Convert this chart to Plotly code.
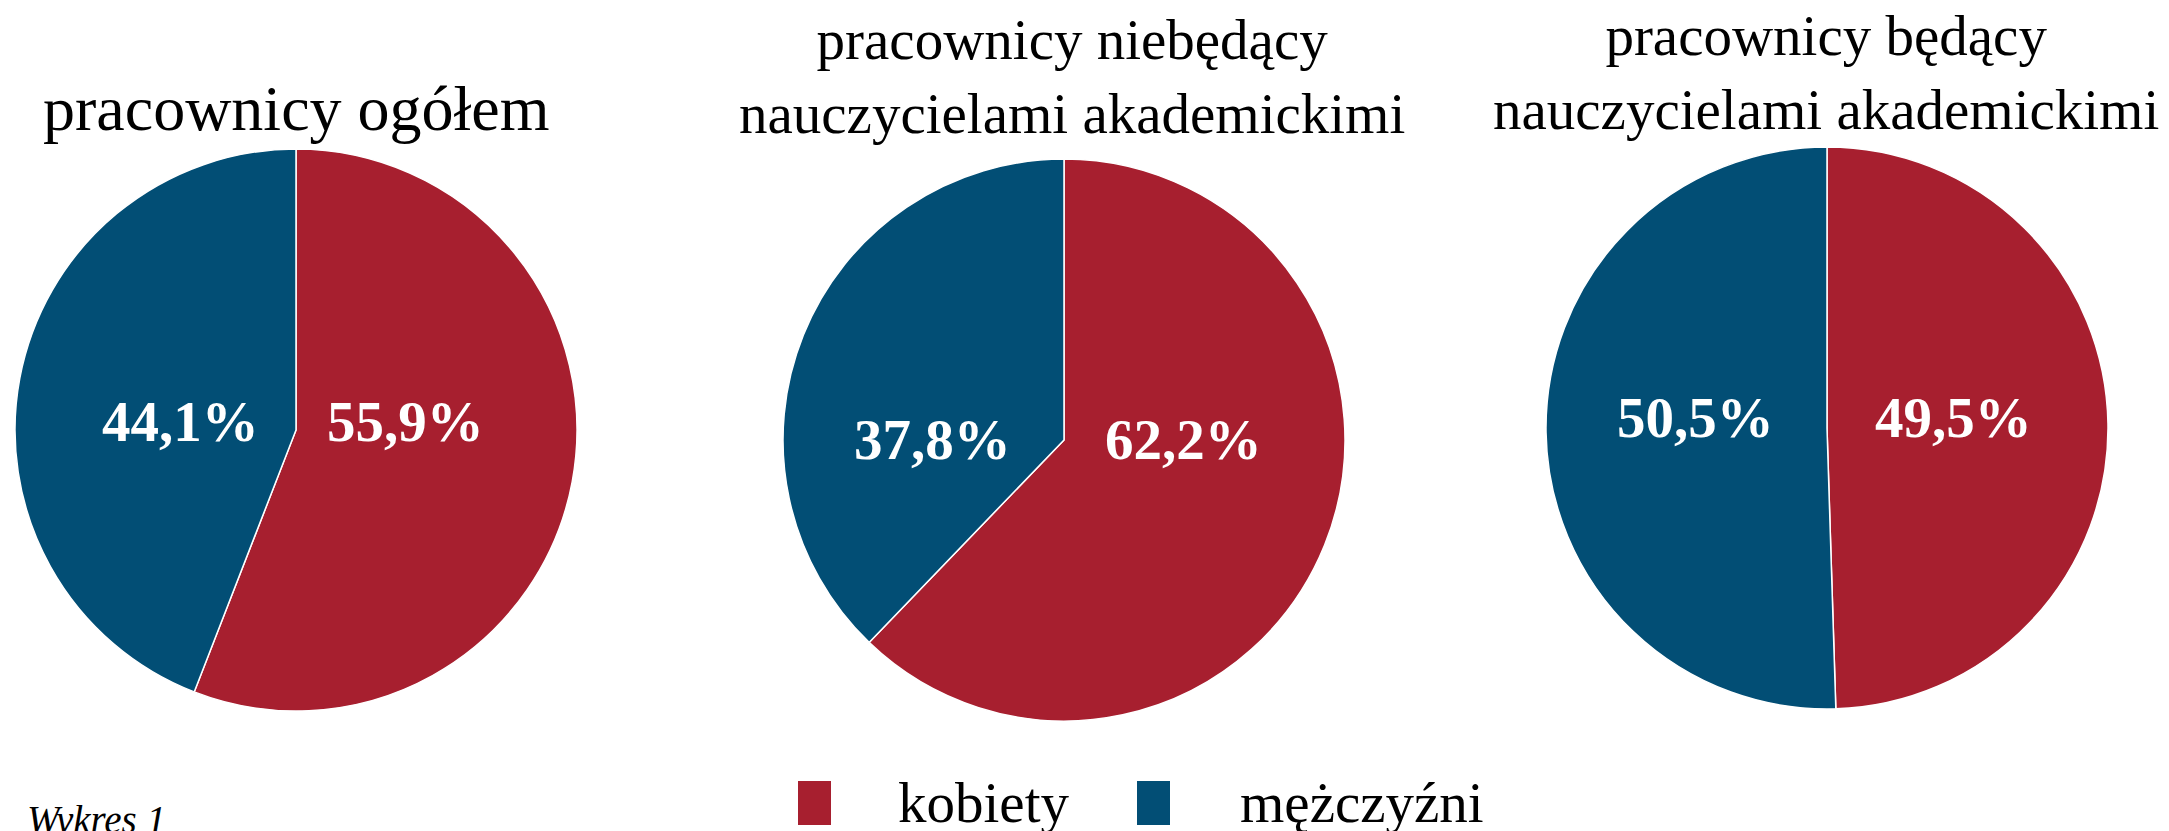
import plotly.graph_objects as go

categories = ["kobiety", "mężczyźni"]
titles = [
    "pracownicy ogółem",
    "pracownicy niebędący<br>nauczycielami akademickimi",
    "pracownicy będący<br>nauczycielami akademickimi",
]
ogolem = [55.9, 44.1]
niebedacy = [62.2, 37.8]
bedacy = [49.5, 50.5]
series = [ogolem, niebedacy, bedacy]

RED = "#A71F2F"
BLUE = "#024E75"
colors = [RED, BLUE]
FONT = "Liberation Serif"

# page is 2169x831; the html body has an 8px default margin
W, H = 2169, 831
OX, OY = 8, 8
FW, FH = W - OX, H - OY


def px(x):
    return (x - OX) / FW


def py(y):
    return 1 - (y - OY) / FH


# pie placement in page pixels (center x, center y, radius)
pies = [(296, 430, 281), (1064, 440, 281), (1827, 428, 281)]
# label placement per pie: (x of kobiety label, x of mężczyźni label, y)
label_pos = [(405, 180, 421), (1183, 932, 439), (1953, 1695, 417)]

fig = go.Figure()
annotations = []
for vals, (cx, cy, r), (xk, xm, ly) in zip(series, pies, label_pos):
    fig.add_trace(go.Pie(
        labels=categories,
        values=vals,
        sort=False,
        direction="clockwise",
        rotation=0,
        marker=dict(colors=colors, line=dict(color="white", width=1.5)),
        textinfo="none",
        showlegend=False,
        hoverinfo="label+value",
        domain=dict(x=[px(cx - r), px(cx + r)],
                    y=[py(cy + r), py(cy - r)]),
    ))
    for v, x in zip(vals, (xk, xm)):
        annotations.append(dict(
            text="<b>" + f"{v:.1f}".replace(".", ",") + "%</b>",
            x=px(x), y=py(ly), xref="paper", yref="paper",
            xanchor="center", yanchor="middle", showarrow=False,
            font=dict(family=FONT, size=57, color="white"),
        ))

title_pos = [(296, 108, 64), (1072, 76, 57), (1826, 73, 57)]
for t, (x, y, s) in zip(titles, title_pos):
    annotations.append(dict(
        text=t, x=px(x), y=py(y), xref="paper", yref="paper",
        xanchor="center", yanchor="middle", showarrow=False,
        font=dict(family=FONT, size=s, color="black"),
    ))

# legend
shapes = []
leg = [(798, 896), (1137, 1238)]
for cat, col, (sx, tx) in zip(categories, colors, leg):
    shapes.append(dict(type="rect", xref="paper", yref="paper",
                       x0=px(sx), x1=px(sx + 33),
                       y0=py(825), y1=py(781),
                       fillcolor=col, line=dict(width=0)))
    annotations.append(dict(
        text=cat, x=px(tx), y=py(802), xref="paper", yref="paper",
        xanchor="left", yanchor="middle", showarrow=False,
        font=dict(family=FONT, size=57, color="black"),
    ))

annotations.append(dict(
    text="<i>Wykres 1</i>", x=px(25), y=py(796), xref="paper", yref="paper",
    xanchor="left", yanchor="top", showarrow=False,
    font=dict(family=FONT, size=39, color="black"),
))

fig.update_layout(
    width=FW, height=FH,
    margin=dict(l=0, r=0, t=0, b=0),
    paper_bgcolor="white", plot_bgcolor="white",
    separators=",.",
    annotations=annotations,
    shapes=shapes,
)

fig.write_html("out.html")
